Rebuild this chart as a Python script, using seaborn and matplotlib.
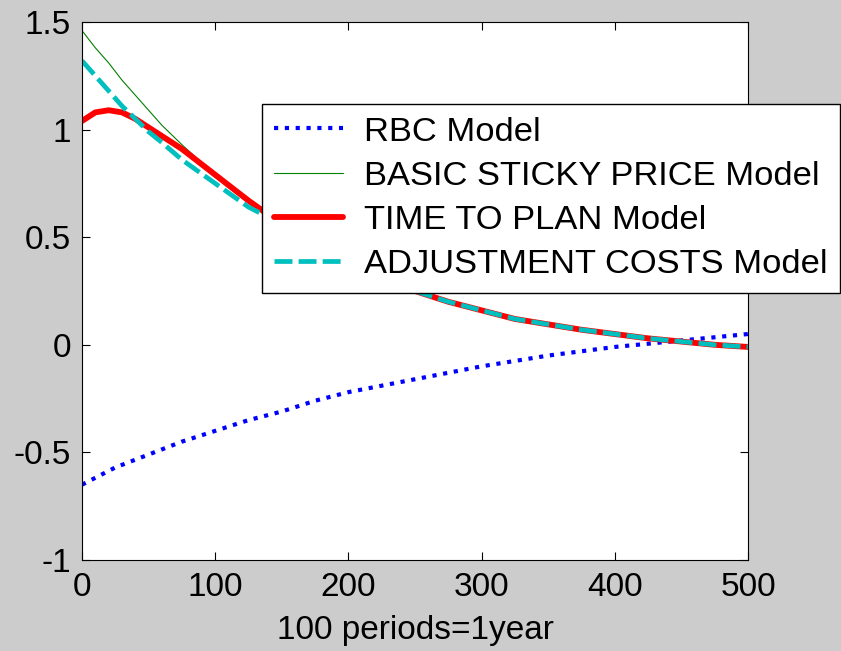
import numpy as np
import pandas as pd
import seaborn as sns
import matplotlib.pyplot as plt

# periods (100 periods = 1 year)
t_rbc = [0, 25, 50, 75, 100, 125, 150, 175, 200, 225, 250, 275, 300,
         325, 350, 375, 400, 425, 450, 475, 500]
rbc = [-0.65, -0.57, -0.51, -0.45, -0.40, -0.35, -0.31, -0.26, -0.22, -0.19,
       -0.16, -0.13, -0.10, -0.075, -0.05, -0.03, -0.01, 0.005, 0.02, 0.035, 0.05]

t_head = [0, 10, 20, 30, 40, 50, 60, 75, 100, 125]
sticky_head = [1.46, 1.38, 1.31, 1.23, 1.16, 1.09, 1.02, 0.93, 0.79, 0.67]
ttp_head = [1.04, 1.08, 1.09, 1.08, 1.05, 1.01, 0.97, 0.91, 0.79, 0.67]
adj_head = [1.32, 1.25, 1.18, 1.11, 1.05, 0.99, 0.94, 0.86, 0.75, 0.64]

# common tail after the curves merge
t_tail = [150, 175, 200, 225, 250, 275, 300, 325, 350, 375, 400, 425, 450, 475, 500]
tail = [0.56, 0.47, 0.39, 0.31, 0.25, 0.20, 0.16, 0.12, 0.095, 0.07, 0.05,
        0.03, 0.015, 0.0, -0.01]

series = [
    ("RBC Model", t_rbc, rbc, dict(color="#0000ff", lw=3.0, ls=(0, (1.0, 1.6)))),
    ("BASIC STICKY PRICE Model", t_head + t_tail, sticky_head + tail,
     dict(color="#008000", lw=0.8, ls="-")),
    ("TIME TO PLAN Model", t_head + t_tail, ttp_head + tail,
     dict(color="#ff0000", lw=4.2, ls="-")),
    ("ADJUSTMENT COSTS Model", t_head + t_tail, adj_head + tail,
     dict(color="#00bfbf", lw=3.4, ls=(0, (3.8, 1.3)))),
]

sns.set_style("ticks")
plt.rcParams["font.family"] = ["Liberation Sans", "DejaVu Sans"]
plt.rcParams["text.color"] = "black"
plt.rcParams["axes.labelcolor"] = "black"

fig = plt.figure(figsize=(8.41, 6.51), dpi=100, facecolor="#cccccc")
ax = fig.add_axes([82 / 841, 1 - 560 / 651, 666 / 841, 538 / 651])
ax.set_facecolor("white")

for name, t, y, st in series:
    df = pd.DataFrame({"t": t, "y": y})
    sns.lineplot(data=df, x="t", y="y", ax=ax, color=st["color"],
                 linewidth=st["lw"], linestyle=st["ls"], label=name)

ax.set_xlim(0, 500)
ax.set_ylim(-1, 1.5)
ax.set_xticks([0, 100, 200, 300, 400, 500])
ax.set_yticks([-1, -0.5, 0, 0.5, 1, 1.5])
ax.set_yticklabels(["-1", "-0.5", "0", "0.5", "1", "1.5"])
ax.tick_params(direction="in", length=6, width=0.8, top=True, right=True,
               labelsize=24, colors="black")
ax.tick_params(axis="x", pad=9)
ax.tick_params(axis="y", pad=8)
for s in ax.spines.values():
    s.set_color("black")
    s.set_linewidth(0.8)
ax.set_xlabel("100 periods=1year", fontsize=24, labelpad=8)
ax.set_ylabel("")

leg = ax.legend(loc="upper left", bbox_to_anchor=(262 / 841, 1 - 104 / 651),
                bbox_transform=fig.transFigure, borderaxespad=0, fontsize=24.8,
                frameon=True, fancybox=False, framealpha=1, edgecolor="black",
                handlelength=2.0, handletextpad=0.6, labelspacing=0.38,
                borderpad=0.36)
leg.get_frame().set_linewidth(1.0)

fig.savefig("out.png", dpi=100, facecolor=fig.get_facecolor())
